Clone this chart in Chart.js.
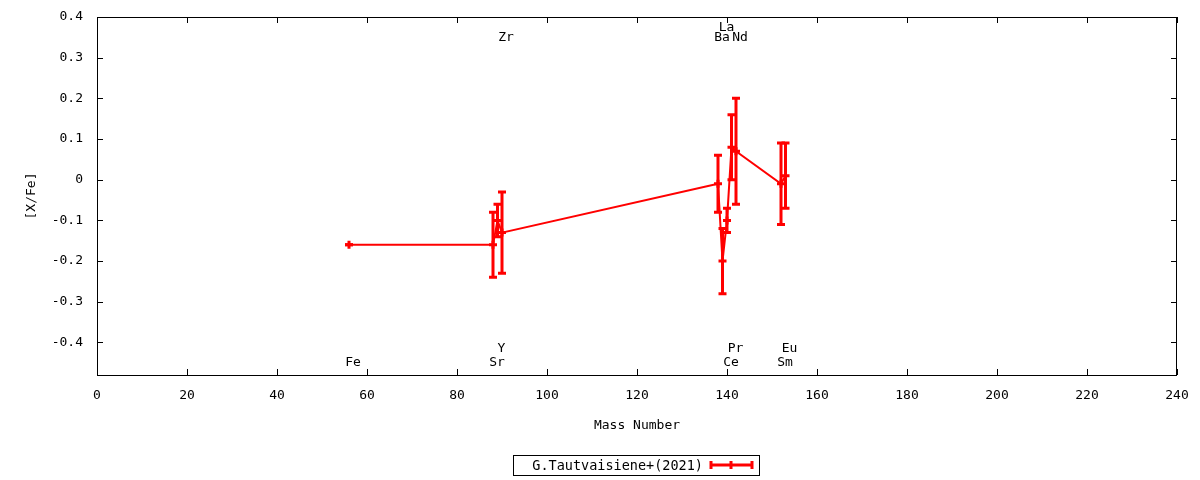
<!DOCTYPE html>
<html lang="en">
<head>
<meta charset="UTF-8">
<title>[X/Fe] - Mass Number</title>
<script src="https://cdn.jsdelivr.net/npm/chart.js"></script>
<style>
  html, body { margin: 0; padding: 0; background: #fff; }
  #wrap { width: 1200px; height: 480px; }
</style>
</head>
<body>
<div id="wrap"><canvas id="grafico" width="1200" height="480"></canvas></div>
<script>
// dados
const elementos = ['Fe', 'Sr', 'Y', 'Zr', 'Ba', 'La', 'Ce', 'Pr', 'Nd', 'Sm', 'Eu'];
const massas    = [56, 88, 89, 90, 138, 139, 140, 141, 142, 152, 153];
const valores   = [-0.16, -0.16, -0.10, -0.13, -0.01, -0.20, -0.10, 0.08, 0.07, -0.01, 0.01];
const erros     = [0, 0.08, 0.04, 0.10, 0.07, 0.08, 0.03, 0.08, 0.13, 0.10, 0.08];
const rotuloY   = [-0.45, -0.45, -0.415, 0.35, 0.35, 0.375, -0.45, -0.415, 0.35, -0.45, -0.415];
const xTicks = [0, 20, 40, 60, 80, 100, 120, 140, 160, 180, 200, 220, 240];
const yTicks = [-0.4, -0.3, -0.2, -0.1, 0, 0.1, 0.2, 0.3, 0.4];
const serieNome = 'G.Tautvaisiene+(2021)';

const VERMELHO = '#ff0000';
const FAMILIA = '"DejaVu Sans Mono", monospace';
const FONTE = '13px ' + FAMILIA;

const extras = {
  id: 'extras',
  beforeDatasetsDraw(chart) {
    const { ctx } = chart;
    const x = chart.scales.x, y = chart.scales.y;
    ctx.save();
    ctx.strokeStyle = VERMELHO;
    ctx.lineWidth = 3;
    massas.forEach((m, i) => {
      const px = x.getPixelForValue(m);
      const top = y.getPixelForValue(valores[i] + erros[i]);
      const bot = y.getPixelForValue(valores[i] - erros[i]);
      ctx.beginPath();
      ctx.moveTo(px, top); ctx.lineTo(px, bot);
      ctx.moveTo(px - 4, top); ctx.lineTo(px + 4, top);
      ctx.moveTo(px - 4, bot); ctx.lineTo(px + 4, bot);
      ctx.stroke();
    });
    ctx.restore();
  },
  afterDraw(chart) {
    const { ctx, chartArea: a } = chart;
    const x = chart.scales.x, y = chart.scales.y;
    ctx.save();
    // moldura e ticks para dentro
    ctx.strokeStyle = '#000';
    ctx.lineWidth = 1;
    ctx.strokeRect(a.left + 0.5, a.top + 0.5, a.right - a.left - 1, a.bottom - a.top);
    ctx.beginPath();
    xTicks.forEach(v => {
      const px = Math.round(x.getPixelForValue(v)) + 0.5;
      ctx.moveTo(px, a.bottom); ctx.lineTo(px, a.bottom - 6);
      ctx.moveTo(px, a.top); ctx.lineTo(px, a.top + 6);
    });
    yTicks.forEach(v => {
      const py = Math.round(y.getPixelForValue(v)) + 0.5;
      ctx.moveTo(a.left, py); ctx.lineTo(a.left + 6, py);
      ctx.moveTo(a.right, py); ctx.lineTo(a.right - 6, py);
    });
    ctx.stroke();

    // nomes dos elementos
    ctx.fillStyle = '#000';
    ctx.font = FONTE;
    ctx.textAlign = 'center';
    ctx.textBaseline = 'middle';
    elementos.forEach((el, i) => {
      ctx.fillText(el, x.getPixelForValue(massas[i]) + 4, y.getPixelForValue(rotuloY[i]));
    });

    // legenda
    const ly = 465;
    ctx.strokeRect(513.5, 455.5, 246, 20);
    ctx.font = '13.5px ' + FAMILIA;
    ctx.textAlign = 'right';
    ctx.fillText(serieNome, 703, ly + 1);
    ctx.strokeStyle = VERMELHO;
    ctx.lineWidth = 3;
    ctx.beginPath();
    ctx.moveTo(711, ly); ctx.lineTo(752, ly);
    ctx.moveTo(711, ly - 4); ctx.lineTo(711, ly + 4);
    ctx.moveTo(752, ly - 4); ctx.lineTo(752, ly + 4);
    ctx.moveTo(731, ly - 4); ctx.lineTo(731, ly + 4);
    ctx.stroke();
    ctx.restore();
  }
};

new Chart(document.getElementById('grafico'), {
  type: 'line',
  data: {
    datasets: [{
      label: serieNome,
      data: massas.map((m, i) => ({ x: m, y: valores[i] })),
      borderColor: VERMELHO,
      backgroundColor: VERMELHO,
      borderWidth: 2,
      pointStyle: 'cross',
      pointRadius: 4,
      pointBorderWidth: 3,
      pointHoverRadius: 4,
      tension: 0
    }]
  },
  options: {
    responsive: false,
    animation: false,
    events: [],
    layout: { padding: { top: 17, right: 23, left: 0, bottom: 0 } },
    plugins: { legend: { display: false }, tooltip: { enabled: false } },
    scales: {
      x: {
        type: 'linear',
        min: 0,
        max: 240,
        grid: { display: false },
        border: { display: false },
        afterFit: s => { s.height = 105; },
        afterBuildTicks: s => { s.ticks = xTicks.map(v => ({ value: v })); },
        ticks: {
          color: '#000',
          font: { family: FAMILIA, size: 13 },
          padding: 5,
          maxRotation: 0,
          autoSkip: false
        },
        title: {
          display: true,
          text: 'Mass Number',
          color: '#000',
          font: { family: FAMILIA, size: 13 },
          padding: { top: 0, bottom: 47 }
        }
      },
      y: {
        type: 'linear',
        min: -0.48,
        max: 0.4,
        grid: { display: false },
        border: { display: false },
        afterFit: s => { s.width = 97; },
        afterBuildTicks: s => { s.ticks = yTicks.map(v => ({ value: v })); },
        ticks: {
          color: '#000',
          font: { family: FAMILIA, size: 13 },
          padding: 6,
          autoSkip: false,
          callback: v => (Math.abs(v) < 1e-9 ? '0' : v.toFixed(1))
        },
        title: {
          display: true,
          text: '[X/Fe]',
          color: '#000',
          font: { family: FAMILIA, size: 13 },
          padding: { top: 24, bottom: 0 }
        }
      }
    }
  },
  plugins: [extras]
});
</script>
</body>
</html>
